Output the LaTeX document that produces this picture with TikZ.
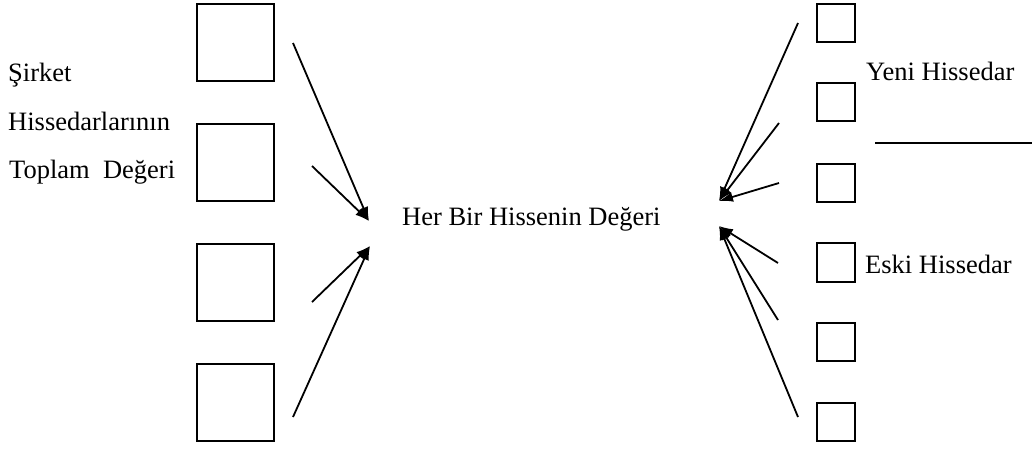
\documentclass[tikz,border=0pt]{standalone}
\usepackage{fontspec}
\setmainfont{Liberation Serif}
\usetikzlibrary{arrows.meta}
\begin{document}
\begin{tikzpicture}[x=1pt,y=-1pt,
  bigbox/.style={draw,line width=1.8pt,minimum size=77pt,inner sep=0pt},
  smallbox/.style={draw,line width=1.8pt,minimum size=38.5pt,inner sep=0pt},
  lbl/.style={anchor=base west,inner sep=0pt,font=\fontsize{26.5}{30}\selectfont},
  arr/.style={line width=1.8pt,-{Latex[length=14pt,width=10pt]}},
  every node/.append style={text=black}]
\useasboundingbox (0,0) rectangle (1036,448);

% left column of large boxes
\node[bigbox] (L1) at (235.5,42.5) {};
\node[bigbox] (L2) at (235.5,162.5) {};
\node[bigbox] (L3) at (235.5,282.5) {};
\node[bigbox] (L4) at (235.5,402.5) {};

% right column of small boxes
\node[smallbox] (R1) at (836,23) {};
\node[smallbox] (R2) at (836,102) {};
\node[smallbox] (R3) at (836,183) {};
\node[smallbox] (R4) at (836,262.5) {};
\node[smallbox] (R5) at (836,342) {};
\node[smallbox] (R6) at (836,422) {};

% labels
\node[lbl] (t1) at (8,81) {Şirket};
\node[lbl] (t2) at (8,130) {Hissedarlarının};
\node[lbl] (t3) at (9,178) {Toplam\ \ Değeri};
\node[lbl] (mid) at (402,225) {Her Bir Hissenin Değeri};
\node[lbl] (yeni) at (866,80) {Yeni Hissedar};
\node[lbl] (eski) at (865,273) {Eski Hissedar};

% fraction bar between the two right-hand labels
\coordinate (barA) at (875,143);
\coordinate (barB) at (1032,143);
\draw[line width=1.4pt] (barA) -- (barB);

% arrow tips and tails, left side
\coordinate (lt1) at (369,221);
\coordinate (lt2) at (370,246);
\coordinate (la1) at (293,43);
\coordinate (la2) at (312,166);
\coordinate (la3) at (312,302);
\coordinate (la4) at (293,417);
\draw[arr] (la1) -- (lt1);
\draw[arr] (la2) -- (lt1);
\draw[arr] (la3) -- (lt2);
\draw[arr] (la4) -- (lt2);

% arrow tips and tails, right side
\coordinate (rt1) at (719,201);
\coordinate (rt2) at (719,226);
\coordinate (ra1) at (798,23);
\coordinate (ra2) at (779,123);
\coordinate (ra3) at (779,183);
\coordinate (ra4) at (778,263);
\coordinate (ra5) at (778,320);
\coordinate (ra6) at (798,417);
\draw[arr] (ra1) -- (rt1);
\draw[arr] (ra2) -- (rt1);
\draw[arr] (ra3) -- (rt1);
\draw[arr] (ra4) -- (rt2);
\draw[arr] (ra5) -- (rt2);
\draw[arr] (ra6) -- (rt2);
\end{tikzpicture}
\end{document}
